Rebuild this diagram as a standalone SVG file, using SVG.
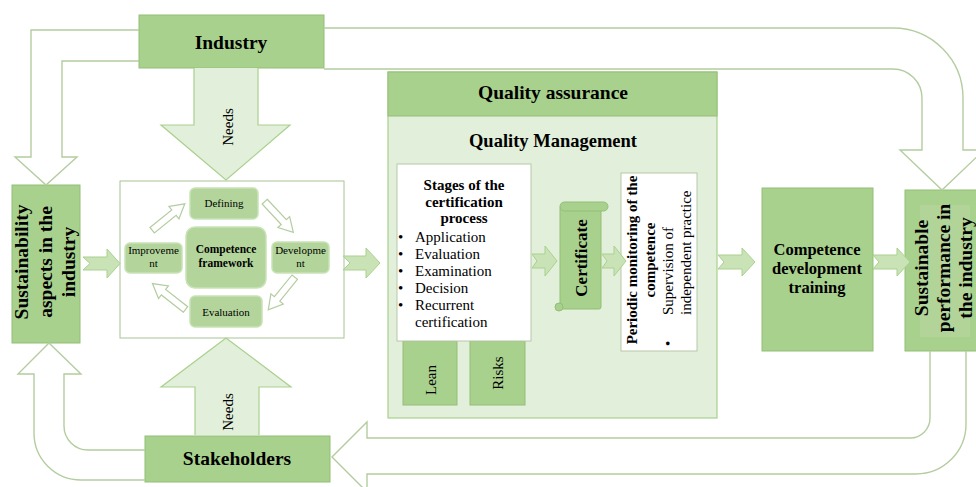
<svg xmlns="http://www.w3.org/2000/svg" xmlns:xlink="http://www.w3.org/1999/xlink" width="976" height="487" viewBox="0 0 976 487">
<style>
.dk{fill:#a9d18e;stroke:#93bf76;stroke-width:1}
.lt{fill:#e2efda;stroke:#a9d18e;stroke-width:1.2}
.wb{fill:#fff;stroke:#b7c9a8;stroke-width:1}
.rb{fill:#b3d59b;stroke:#c9e2b8;stroke-width:1.5}
.ho{fill:none;stroke:#b4cda0;stroke-width:1.4}
.hs{fill:#fff;stroke:#b4cda0;stroke-width:1.2}
.ch{fill:#c9e3b7;stroke:#a9d18e;stroke-width:1}
text{font-family:"Liberation Serif","Times New Roman",serif;fill:#000}
.b{font-weight:bold}
.m{text-anchor:middle}
</style>
<defs>
<path id="sa" d="M-21,-3.5 L7,-3.5 L7,-8 L21,0 L7,8 L7,3.5 L-21,3.5 Z"/>
</defs>
<rect width="976" height="487" fill="#fff"/>

<g id="industry">
  <rect class="dk" x="139" y="15" width="185" height="53"/>
  <text class="b m" x="231" y="49" font-size="19.5">Industry</text>
</g>

<g id="stakeholders">
  <rect class="dk" x="145" y="436" width="185" height="46"/>
  <text class="b m" x="237" y="465" font-size="19.5">Stakeholders</text>
</g>

<g id="sustainability">
  <rect class="dk" x="12" y="185" width="68" height="158"/>
  <text class="b m" font-size="19.5" transform="translate(28,262) rotate(-90)">Sustainability</text>
  <text class="b m" font-size="19.5" transform="translate(52,262) rotate(-90)">aspects in the</text>
  <text class="b m" font-size="19.5" transform="translate(75,262) rotate(-90)">industry</text>
</g>

<g id="framework">
  <rect x="120" y="181" width="224" height="157" fill="#fff" stroke="#a9c496" stroke-width="1"/>
  <g id="defining">
    <rect class="rb" x="190" y="188" width="68" height="31" rx="5"/>
    <text class="m" x="224" y="207" font-size="11">Defining</text>
  </g>
  <g id="competence">
    <rect class="rb" x="186" y="227" width="80" height="61" rx="9"/>
    <text class="b m" x="226" y="253" font-size="11.5">Competence</text>
    <text class="b m" x="226" y="267" font-size="11.5">framework</text>
  </g>
  <g id="improvement">
    <rect class="rb" x="125" y="243" width="57" height="30" rx="5"/>
    <text class="m" x="153.5" y="254" font-size="11">Improveme</text>
    <text class="m" x="153.5" y="267" font-size="11">nt</text>
  </g>
  <g id="development">
    <rect class="rb" x="272" y="242" width="57" height="31" rx="5"/>
    <text class="m" x="300.5" y="254" font-size="11">Developme</text>
    <text class="m" x="300.5" y="267" font-size="11">nt</text>
  </g>
  <g id="evaluation">
    <rect class="rb" x="190" y="296" width="72" height="31" rx="5"/>
    <text class="m" x="226" y="316" font-size="11">Evaluation</text>
  </g>
</g>

<g id="quality">
  <rect class="lt" x="388" y="72" width="329" height="346"/>
  <rect class="dk" x="388" y="72" width="329" height="44"/>
  <text class="b m" x="553" y="99" font-size="19.5">Quality assurance</text>
  <text class="b m" x="553" y="147" font-size="18.5">Quality Management</text>
</g>

<g id="lean">
  <rect class="dk" x="403" y="341" width="54" height="64"/>
  <text class="m" font-size="15" transform="translate(436,380) rotate(-90)">Lean</text>
</g>
<g id="risks">
  <rect class="dk" x="470" y="341" width="55" height="64"/>
  <text class="m" font-size="15" transform="translate(503,373) rotate(-90)">Risks</text>
</g>

<g id="stages">
  <rect class="wb" x="397" y="164" width="134" height="177"/>
  <text class="b m" x="464" y="190" font-size="15">Stages of the</text>
  <text class="b m" x="464" y="207" font-size="15">certification</text>
  <text class="b m" x="464" y="223" font-size="15">process</text>
  <g font-size="15">
    <text x="398" y="242">•</text><text x="415" y="242">Application</text>
    <text x="398" y="259">•</text><text x="415" y="259">Evaluation</text>
    <text x="398" y="276">•</text><text x="415" y="276">Examination</text>
    <text x="398" y="293">•</text><text x="415" y="293">Decision</text>
    <text x="398" y="310">•</text><text x="415" y="310">Recurrent</text>
    <text x="415" y="327">certification</text>
  </g>
</g>

<g id="certificate">
  <rect class="dk" x="560" y="206" width="41" height="103" rx="2"/>
  <rect class="dk" x="560" y="202" width="48" height="9" rx="4.5"/>
  <circle class="dk" cx="559" cy="307" r="4"/>
  <text class="b m" font-size="17" transform="translate(587,258) rotate(-90)">Certificate</text>
</g>

<g id="periodic">
  <rect class="wb" x="621" y="173" width="76" height="178"/>
  <text class="b m" font-size="15" transform="translate(637,260) rotate(-90)">Periodic monitoring of the</text>
  <text class="b m" font-size="15" transform="translate(655,260) rotate(-90)">competence</text>
  <text font-size="15" transform="translate(673,346) rotate(-90)">•</text>
  <text font-size="15" transform="translate(673,315) rotate(-90)">Supervision of</text>
  <text font-size="15" transform="translate(691,315) rotate(-90)">independent practice</text>
</g>

<g id="cdt">
  <rect class="dk" x="762" y="188" width="111" height="163"/>
  <text class="b m" x="817" y="255" font-size="16.5">Competence</text>
  <text class="b m" x="817" y="274" font-size="16.5">development</text>
  <text class="b m" x="817" y="293" font-size="16.5">training</text>
</g>

<g id="sustainable">
  <rect class="dk" x="905" y="190" width="80" height="161"/>
  <rect x="920" y="205" width="50" height="132" fill="#b2d499"/>
  <text class="b m" font-size="19.5" transform="translate(928,268) rotate(-90)">Sustainable</text>
  <text class="b m" font-size="19.5" transform="translate(950,268) rotate(-90)">performance in</text>
  <text class="b m" font-size="19.5" transform="translate(972,268) rotate(-90)">the industry</text>
</g>

<g id="connectors">
  <path class="ho" d="M139,30 L31,30 L31,157 L15,157 L46,185 L77,157 L62,157 L62,61 L139,61"/>
  <path class="ho" d="M324,28 L893,28 A70,70 0 0 1 963,98 L963,150 L984,150 L942,190 L900,150 L922,150 L922,98 A29,29 0 0 0 893,69 L324,69"/>
  <path class="ho" d="M930,351 L930,418 A20,20 0 0 1 910,438 L367,438 L367,422 L332,457 L367,492 L367,474 L916,474 A50,50 0 0 0 966,424 L966,351"/>
  <path class="ho" d="M145,450 L88,450 A24,24 0 0 1 64,426 L64,374 L81,374 L49,343 L18,374 L34,374 L34,433 A47,47 0 0 0 81,480 L145,480"/>
  <path class="lt" d="M194,68 L194,125 L161,125 L226,180 L290,125 L258,125 L258,68"/>
  <path class="lt" d="M195,435 L195,387 L161,387 L226,338 L291,387 L259,387 L259,435"/>
  <polygon class="ch" points="83,257 107,257 107,249 120,263.5 107,278 107,270 83,270 90,263.5"/>
  <polygon class="ch" points="343,256 366,256 366,248 380,263 366,278 366,270 343,270 350,263"/>
  <polygon class="ch" points="532,254 545,254 545,246 557,261 545,276 545,268 532,268 537,261"/>
  <polygon class="ch" points="602,254 614,254 614,246 626,261 614,276 614,268 602,268 607,261"/>
  <polygon class="ch" points="718,255 742,255 742,248 755,262 742,276 742,269 718,269 724,262"/>
  <polygon class="ch" points="873,255 897,255 897,248 910,262 897,276 897,269 873,269 879,262"/>
  <use xlink:href="#sa" class="hs" transform="translate(168.5,217) rotate(-39)"/>
  <use xlink:href="#sa" class="hs" transform="translate(279,217) rotate(47)"/>
  <use xlink:href="#sa" class="hs" transform="translate(281.5,293.5) rotate(129)"/>
  <use xlink:href="#sa" class="hs" transform="translate(169,296.5) rotate(218)"/>
</g>

<text class="m" font-size="15" transform="translate(233,127) rotate(-90)">Needs</text>
<text class="m" font-size="15" transform="translate(233,412) rotate(-90)">Needs</text>
</svg>
